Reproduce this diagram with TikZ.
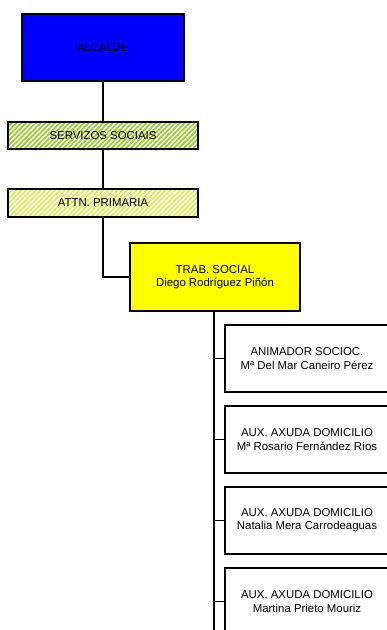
\documentclass[tikz,border=0pt]{standalone}
\usepackage{fontspec}
\setmainfont{Liberation Sans}
\usetikzlibrary{patterns.meta}
\definecolor{alcblue}{RGB}{0,0,255}
\definecolor{trabyellow}{RGB}{255,255,0}
\definecolor{ssgreen}{RGB}{150,204,40}
\definecolor{apyellow}{RGB}{218,238,90}
\tikzset{
  orgbox/.style={draw=black, line width=1.5pt, align=center, inner sep=0pt,
    font=\fontsize{11.4pt}{13.3pt}\selectfont},
  hatched/.style={pattern={Lines[angle=45,distance=3.4pt,line width=1.7pt]}, pattern color=#1},
  link/.style={draw=black, line width=1.3pt},
}
\begin{document}
\begin{tikzpicture}[x=1pt,y=-1pt]
\clip (0,0) rectangle (387,630);
\fill[white] (0,0) rectangle (387,630);

% top of the chain
\node[orgbox, fill=alcblue, minimum width=162pt, minimum height=67pt] (alc) at (103,47.5) {ALCALDE};
\node[orgbox, hatched=ssgreen, minimum width=190pt, minimum height=27pt] (ss) at (103,135.5) {SERVIZOS SOCIAIS};
\node[orgbox, hatched=apyellow, minimum width=190pt, minimum height=28pt] (ap) at (103,203) {ATTN. PRIMARIA};
\node[orgbox, fill=trabyellow, minimum width=170pt, minimum height=68pt] (ts) at (215,277) {TRAB. SOCIAL\\Diego Rodríguez Piñón};

% staff boxes
\tikzset{staff/.style={orgbox, minimum width=164pt, minimum height=67pt}}
\node[staff] (s1) at (307,358.5) {ANIMADOR SOCIOC.\\Mª Del Mar Caneiro Pérez};
\node[staff] (s2) at (307,439.5) {AUX. AXUDA DOMICILIO\\Mª Rosario Fernández Ríos};
\node[staff] (s3) at (307,520.5) {AUX. AXUDA DOMICILIO\\Natalia Mera Carrodeaguas};
\node[staff] (s4) at (307,601.5) {AUX. AXUDA DOMICILIO\\Martina Prieto Mouriz};

% connectors
\draw[link] (alc.south) -- (ss.north);
\draw[link] (ss.south) -- (ap.north);
\draw[link] (ap.south) |- (ts.west);
\coordinate (trunkend) at (214,640);
\draw[link] (214,311) -- (trunkend);
\foreach \s in {s1,s2,s3,s4}
  \draw[link] (trunkend |- \s.west) -- (\s.west);
\end{tikzpicture}
\end{document}
